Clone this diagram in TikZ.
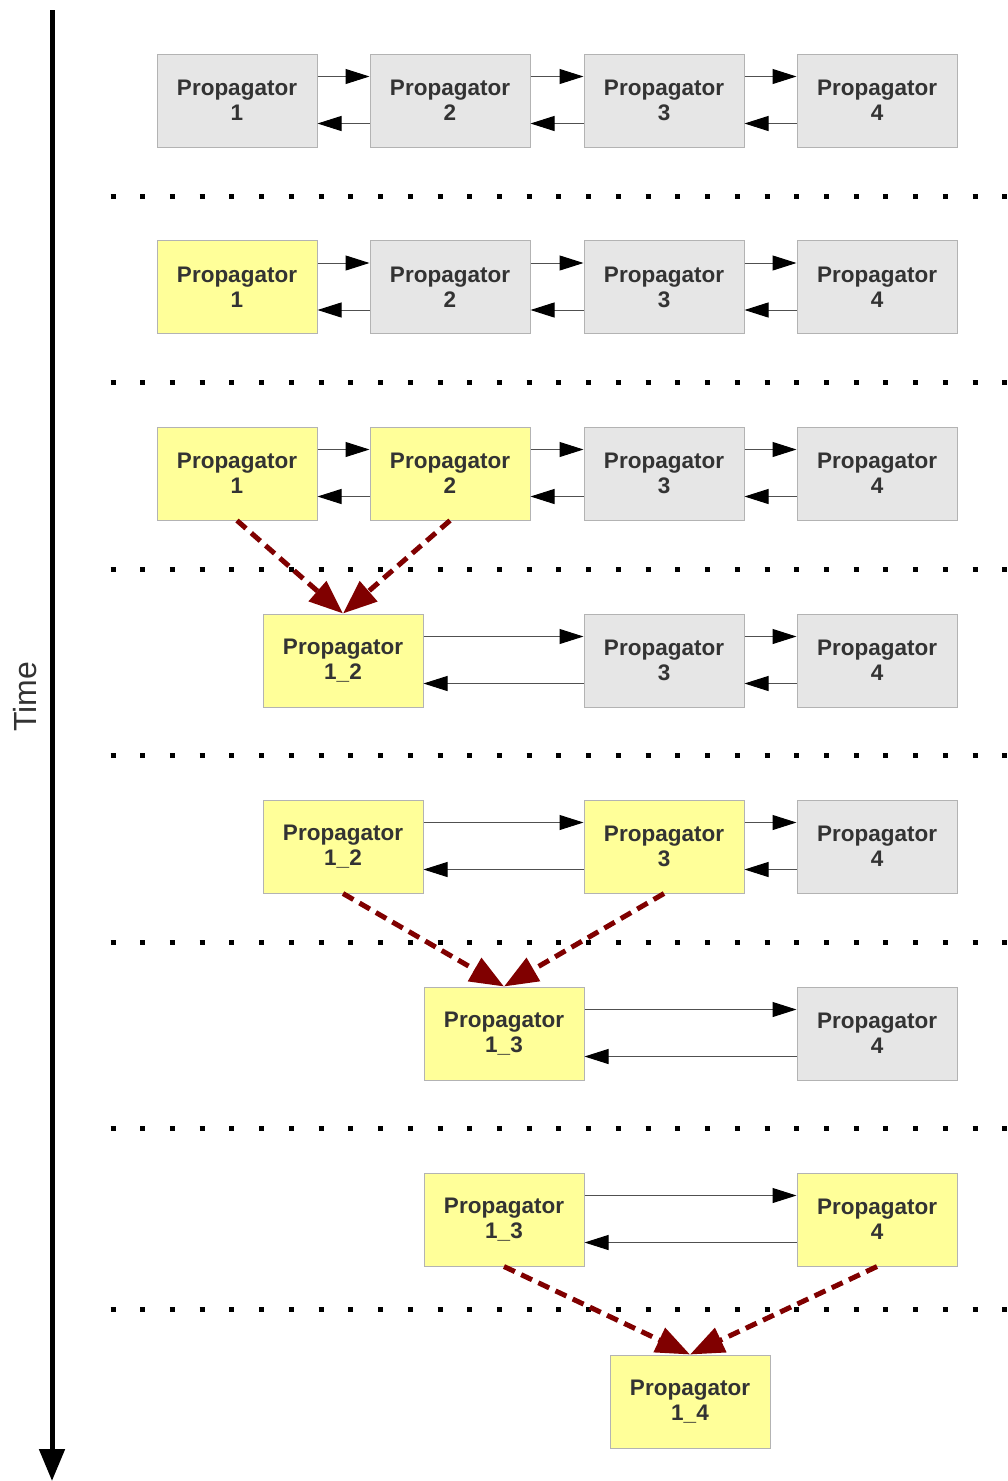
\documentclass[tikz,border=0pt]{standalone}
\usepackage{fontspec}
\setmainfont{Liberation Sans}
\usetikzlibrary{arrows.meta}
\definecolor{boxgray}{HTML}{E6E6E6}
\definecolor{boxyellow}{HTML}{FFFF99}
\definecolor{boxline}{HTML}{B3B3B3}
\definecolor{textgray}{HTML}{333333}
\definecolor{linkgray}{HTML}{505050}
\definecolor{mergered}{HTML}{800000}

% two opposite links between neighbouring propagators
\newcommand\linkpair[2]{%
  \draw[link] ([yshift=-23pt]#1.north east) -- ([yshift=-23pt]#2.north west);
  \draw[link] ([yshift=24pt]#2.south west) -- ([yshift=24pt]#1.south east);}

\begin{document}
\begin{tikzpicture}[x=1pt,y=-1pt,
  prop/.style={draw=boxline, line width=1pt, minimum width=160pt, minimum height=93pt,
    inner sep=0pt, align=center, text=textgray,
    font=\fontsize{22.5}{25}\selectfont\bfseries},
  idle/.style={prop, fill=boxgray},
  busy/.style={prop, fill=boxyellow},
  link/.style={draw=linkgray, line width=1pt, -{Triangle[length=24pt,width=15pt,color=black]}},
  merge/.style={draw=mergered, line width=5pt, dash pattern=on 12pt off 7pt,
    -{Triangle[length=34pt,width=26pt]}},
  sep/.style={line width=5pt, dash pattern=on 5pt off 24.73pt},
]
\useasboundingbox (0,0) rectangle (1008,1481);

% time axis
\coordinate (t0) at (52,10);
\coordinate (t1) at (52,1481);
\draw[line width=5pt, -{Triangle[length=32pt,width=25pt]}] (t0) -- (t1);
\node[rotate=90, text=textgray, font=\fontsize{32}{38}\selectfont] (time) at (25,697) {Time};

% separators between steps
\foreach \y in {196,382,569,755,942,1128,1309}
  \draw[sep] (110.5,\y) -- (1008,\y);

% step 1
\node[idle] (a1) at (237,100.5) {Propagator\\1};
\node[idle] (a2) at (450,100.5) {Propagator\\2};
\node[idle] (a3) at (664,100.5) {Propagator\\3};
\node[idle] (a4) at (877,100.5) {Propagator\\4};
\linkpair{a1}{a2}\linkpair{a2}{a3}\linkpair{a3}{a4}

% step 2
\node[busy] (b1) at (237,287) {Propagator\\1};
\node[idle] (b2) at (450,287) {Propagator\\2};
\node[idle] (b3) at (664,287) {Propagator\\3};
\node[idle] (b4) at (877,287) {Propagator\\4};
\linkpair{b1}{b2}\linkpair{b2}{b3}\linkpair{b3}{b4}

% step 3
\node[busy] (c1) at (237,473.5) {Propagator\\1};
\node[busy] (c2) at (450,473.5) {Propagator\\2};
\node[idle] (c3) at (664,473.5) {Propagator\\3};
\node[idle] (c4) at (877,473.5) {Propagator\\4};
\linkpair{c1}{c2}\linkpair{c2}{c3}\linkpair{c3}{c4}

% step 4
\node[busy] (d12) at (343,660.5) {Propagator\\1\_2};
\node[idle] (d3) at (664,660.5) {Propagator\\3};
\node[idle] (d4) at (877,660.5) {Propagator\\4};
\linkpair{d12}{d3}\linkpair{d3}{d4}
\draw[merge] (c1.south) -- (d12.north);
\draw[merge] (c2.south) -- (d12.north);

% step 5
\node[busy] (e12) at (343,846.5) {Propagator\\1\_2};
\node[busy] (e3) at (664,846.5) {Propagator\\3};
\node[idle] (e4) at (877,846.5) {Propagator\\4};
\linkpair{e12}{e3}\linkpair{e3}{e4}

% step 6
\node[busy] (f13) at (504,1033.5) {Propagator\\1\_3};
\node[idle] (f4) at (877,1033.5) {Propagator\\4};
\linkpair{f13}{f4}
\draw[merge] (e12.south) -- (f13.north);
\draw[merge] (e3.south) -- (f13.north);

% step 7
\node[busy] (g13) at (504,1219.5) {Propagator\\1\_3};
\node[busy] (g4) at (877,1219.5) {Propagator\\4};
\linkpair{g13}{g4}

% step 8
\node[busy] (h14) at (690,1401.5) {Propagator\\1\_4};
\draw[merge] (g13.south) -- (h14.north);
\draw[merge] (g4.south) -- (h14.north);
\end{tikzpicture}
\end{document}
